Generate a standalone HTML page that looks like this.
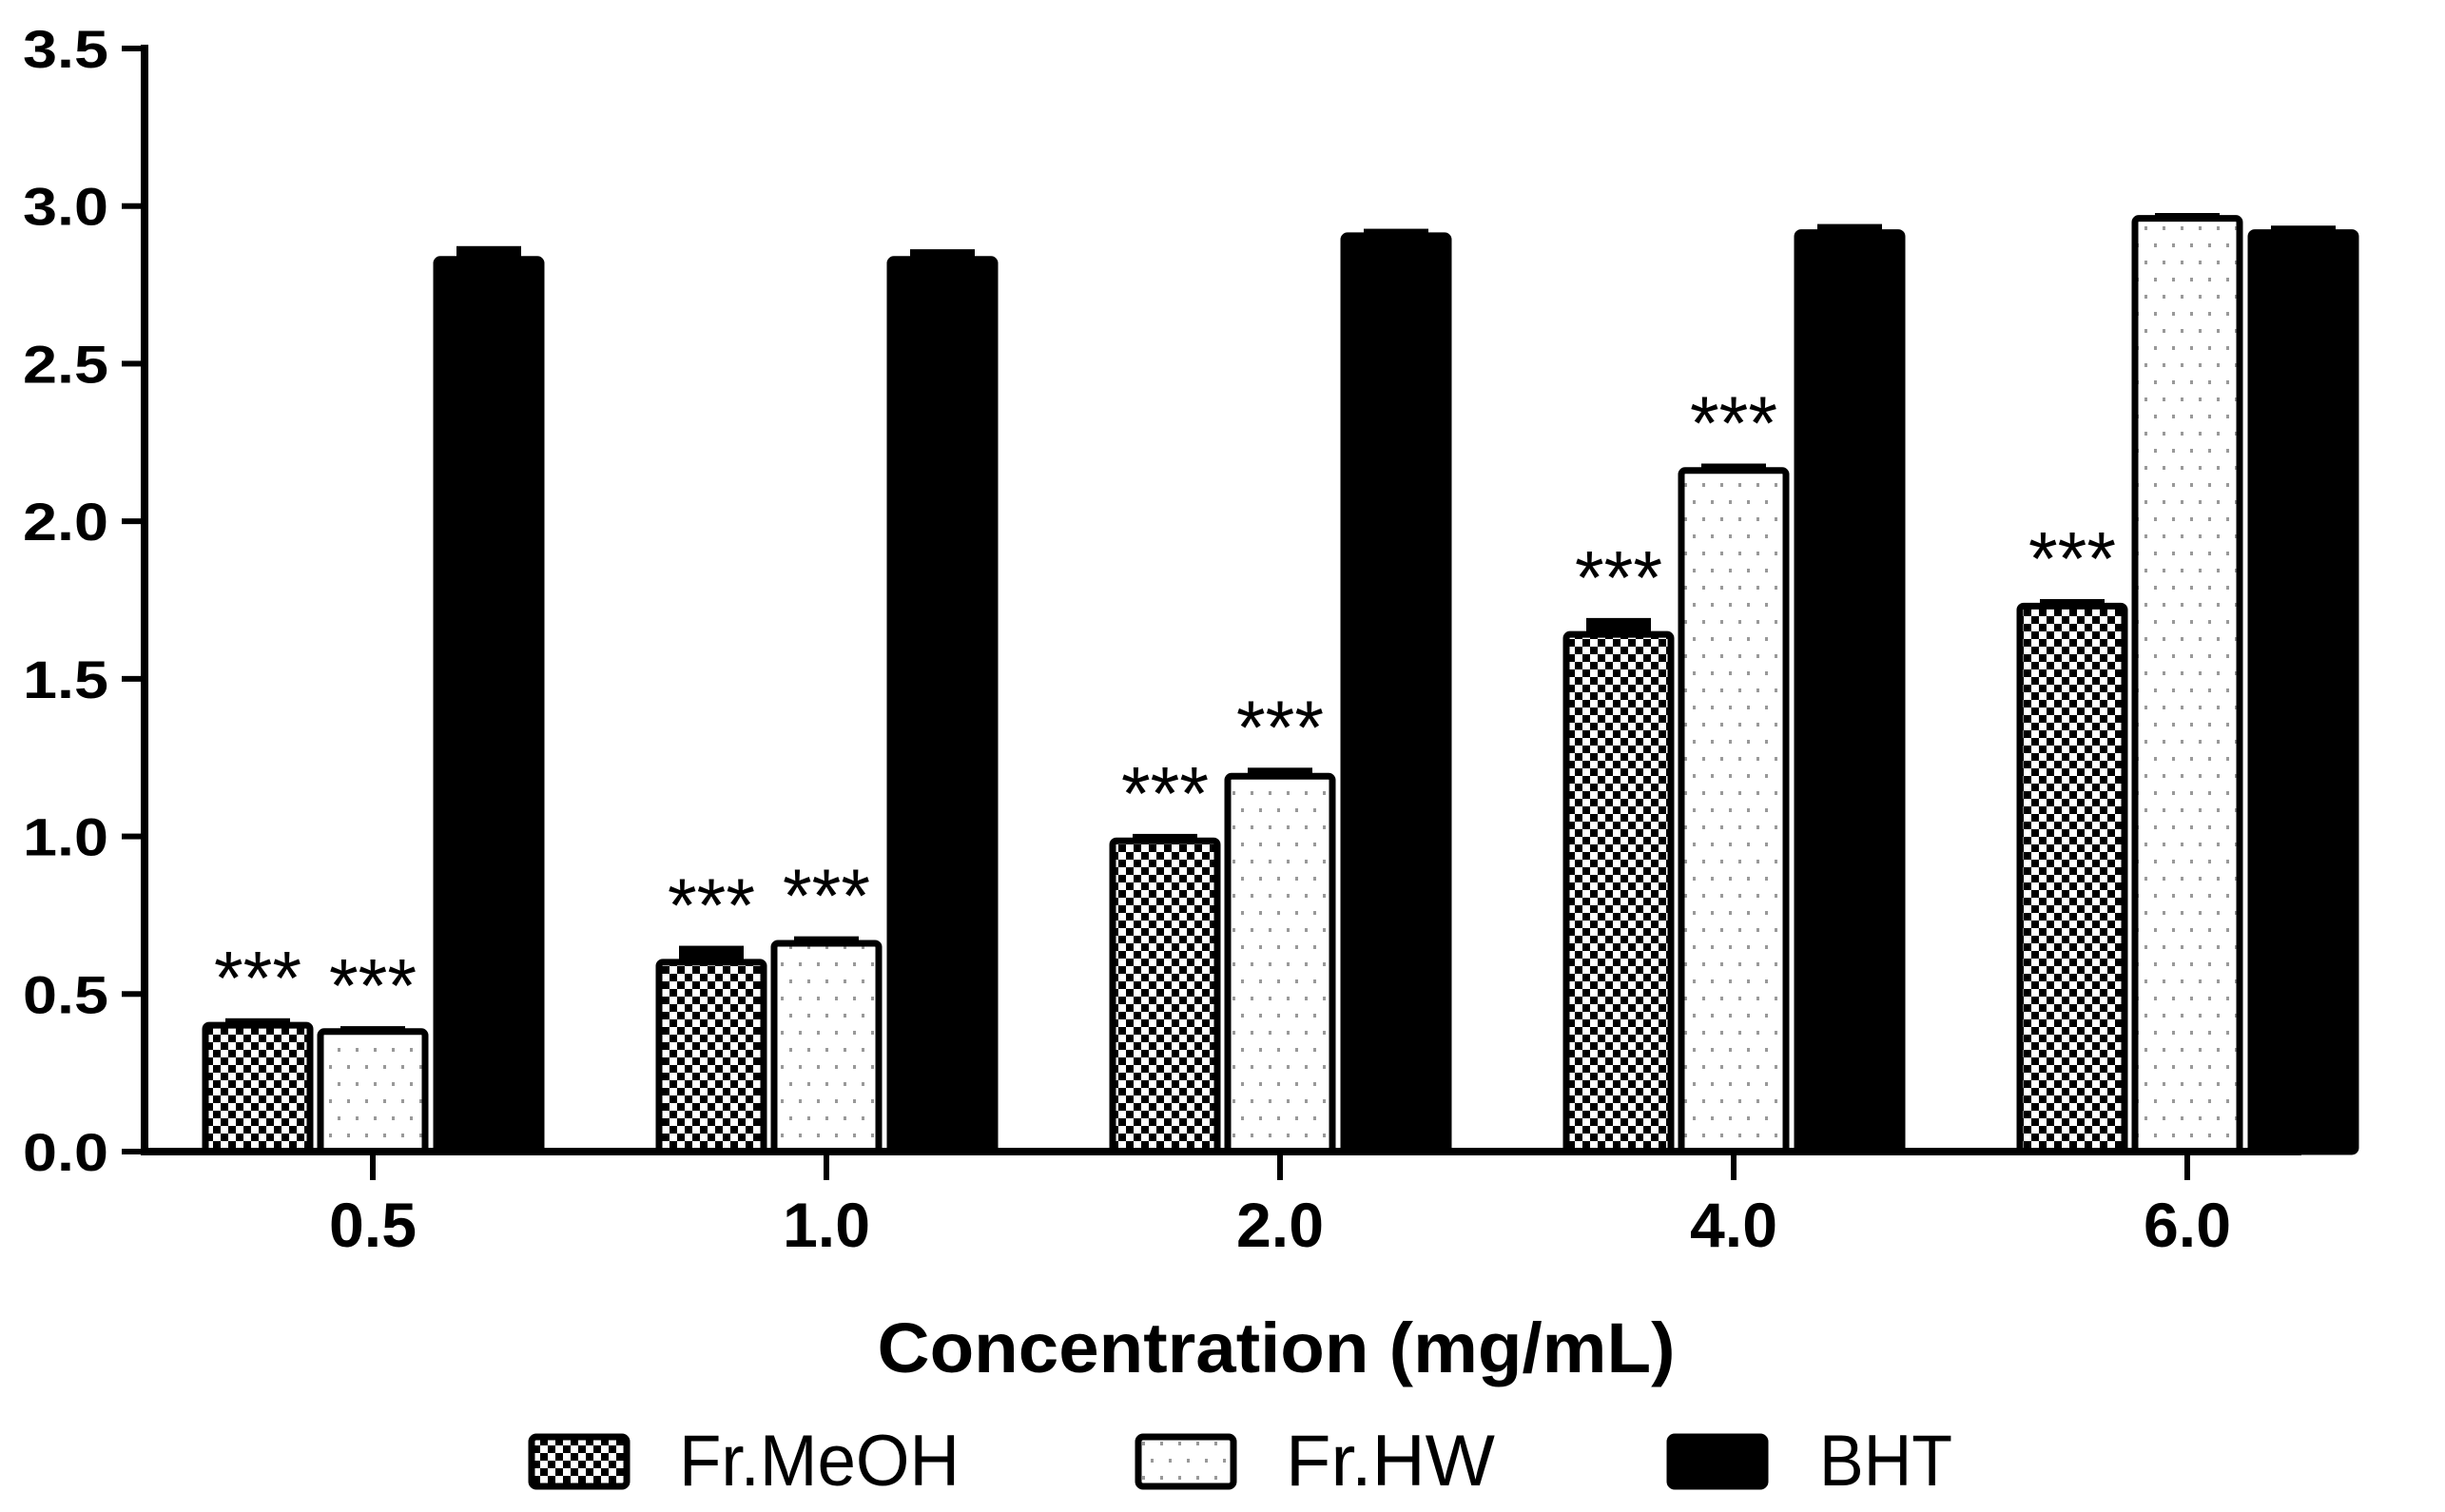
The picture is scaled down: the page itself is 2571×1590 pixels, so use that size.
<!DOCTYPE html>
<html><head><meta charset="utf-8"><style>
html,body{margin:0;padding:0;background:#fff;}
svg{display:block;}
</style></head><body>
<svg id="chart" width="2571" height="1590" viewBox="0 0 2571 1590" xmlns="http://www.w3.org/2000/svg">
<defs>
<pattern id="checker" patternUnits="userSpaceOnUse" width="16" height="16">
<rect width="16" height="16" fill="#fff"/><rect width="8" height="8" fill="#000"/><rect x="8" y="8" width="8" height="8" fill="#000"/>
</pattern>
<pattern id="dots" patternUnits="userSpaceOnUse" width="19" height="36">
<rect width="19" height="36" fill="#fff"/><rect x="4" y="4" width="3" height="4" fill="#999"/><rect x="13" y="22" width="3" height="4" fill="#999"/>
</pattern>
</defs>
<g id="plot"></g>
</svg>
<script>
const categories = ["0.5","1.0","2.0","4.0","6.0"];
const seriesNames = ["Fr.MeOH","Fr.HW","BHT"];
const meohValues = [0.41,0.61,0.995,1.65,1.74];
const meohErr = [0.01,0.04,0.01,0.04,0.01];
const hwValues = [0.39,0.67,1.20,2.17,2.97];
const hwErr = [0.005,0.01,0.015,0.01,0.005];
const bhtValues = [2.84,2.84,2.915,2.925,2.925];
const bhtErr = [0.03,0.02,0.01,0.015,0.01];
const meohSig = ["***","***","***","***","***"];
const hwSig = ["***","***","***","***",""];
const yTicks = [0,0.5,1.0,1.5,2.0,2.5,3.0,3.5];
const yTickLabels = ["0.0","0.5","1.0","1.5","2.0","2.5","3.0","3.5"];

const NS="http://www.w3.org/2000/svg";
const g=document.getElementById('plot');
const X0=152, Y0=1211, YTOP=51, YMAX=3.5;
function yScale(v){return Y0-(v/YMAX)*(Y0-YTOP);}
function xScale(i){return 392+i*477;}
function mk(tag,attrs,parent){const e=document.createElementNS(NS,tag);for(const k in attrs)e.setAttribute(k,attrs[k]);(parent||g).appendChild(e);return e;}

const series=[
 {vals:meohValues,err:meohErr,sig:meohSig,fill:"url(#checker)",off:-121,name:"bar-fr-meoh"},
 {vals:hwValues,err:hwErr,sig:hwSig,fill:"url(#dots)",off:0,name:"bar-fr-hw"},
 {vals:bhtValues,err:bhtErr,sig:null,fill:"#000",off:122,name:"bar-bht"}
];
const BW=116;
series.forEach(s=>{
  categories.forEach((c,i)=>{
    const cx=xScale(i)+s.off, top=yScale(s.vals[i]);
    const et=yScale(s.vals[i]+s.err[i]);
    const eb=mk('rect',{x:cx-34,y:et-1,width:68,height:Math.max(top-et+3,5),fill:'#000'});
    
    
    const r=mk('rect',{x:cx-BW/2+3,y:top+3,width:BW-6,height:Y0-top-3,fill:s.fill,stroke:'#000','stroke-width':7,rx:4});
    
    
    if(s.sig && s.sig[i]){
      const t=mk('text',{x:cx,y:Math.min(et,top)-16,'text-anchor':'middle','font-family':'Liberation Sans, sans-serif','font-size':80,textLength:92,lengthAdjust:'spacingAndGlyphs',fill:'#000'});
      t.textContent=s.sig[i];
      
      
    }
  });
});
const ya=mk('rect',{x:X0-4,y:YTOP-4,width:8,height:Y0-YTOP+8,fill:'#000'});


const xa=mk('rect',{x:X0-4,y:Y0-4,width:2424-X0,height:8,fill:'#000'});


yTicks.forEach((v,i)=>{
  const y=yScale(v);
  const tk=mk('rect',{x:128,y:y-3,width:26,height:6,fill:'#000'});
  
  
  const t=mk('text',{x:114,y:y+20,'text-anchor':'end','font-family':'Liberation Sans, sans-serif','font-weight':'bold','font-size':56,textLength:90,lengthAdjust:'spacingAndGlyphs',fill:'#000'});
  t.textContent=yTickLabels[i];
  
  
});
categories.forEach((c,i)=>{
  const x=xScale(i);
  const tk=mk('rect',{x:x-3,y:Y0,width:6,height:30,fill:'#000'});
  
  
  const t=mk('text',{x:x,y:1311,'text-anchor':'middle','font-family':'Liberation Sans, sans-serif','font-weight':'bold','font-size':66,textLength:92,lengthAdjust:'spacingAndGlyphs',fill:'#000'});
  t.textContent=c;
  
  
});
const xt=mk('text',{x:1342,y:1443,'text-anchor':'middle','font-family':'Liberation Sans, sans-serif','font-weight':'bold','font-size':74,textLength:839,lengthAdjust:'spacingAndGlyphs',fill:'#000'});
xt.textContent='Concentration (mg/mL)';


const legBox=[556,1194,1753], legText=[714,1352,1913], legW=[295,220,140], legFill=["url(#checker)","url(#dots)","#000"];
seriesNames.forEach((n,i)=>{
  const lg=mk('g',{});
  
  
  mk('rect',{x:legBox[i]+3,y:1511,width:100,height:52,fill:legFill[i],stroke:'#000','stroke-width':7,rx:5},lg);
  const t=mk('text',{x:legText[i],y:1562,'font-family':'Liberation Sans, sans-serif','font-size':76,textLength:legW[i],lengthAdjust:'spacingAndGlyphs',fill:'#000'},lg);
  t.textContent=n;
});
</script>
</body></html>
